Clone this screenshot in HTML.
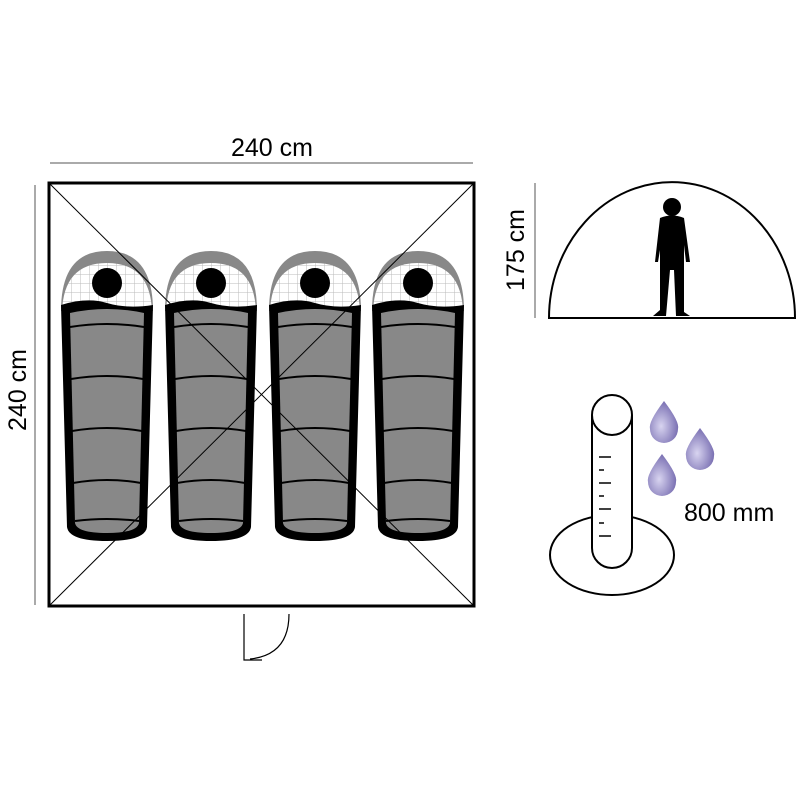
<!DOCTYPE html>
<html><head><style>body{margin:0;background:#fff}svg{display:block}</style></head><body>
<svg width="800" height="800" xmlns="http://www.w3.org/2000/svg" font-family="Liberation Sans, sans-serif">
<defs>
<pattern id="g" width="9" height="9" patternUnits="userSpaceOnUse"><rect width="9" height="9" fill="#fff"/><path d="M0 0H9M0 0V9" stroke="#bbb" stroke-width="1"/></pattern>
<radialGradient id="d" cx="0.4" cy="0.6" r="0.7"><stop offset="0" stop-color="#d8d4f0"/><stop offset="1" stop-color="#6a5fa8"/></radialGradient>
<g id="bag">
<path d="M-46 28 Q-46 -32 0 -32 Q46 -32 46 28 Z" fill="#888"/>
<path d="M-45 30 Q-44 -20 0 -20 Q44 -20 45 30 Z" fill="url(#g)"/>
<circle cx="0" cy="0" r="15" fill="#000"/>
<path d="M-46 22 Q-20 14 0 20 Q20 26 46 22 L40 244 Q38 258 0 258 Q-38 258 -40 244 Z" fill="#000"/>
<path d="M-37 30 Q0 22 37 30 L32 240 Q30 250 0 250 Q-30 250 -32 240 Z" fill="#888"/>
<g stroke="#000" stroke-width="2" fill="none">
<path d="M-37 44 Q0 38 37 44"/><path d="M-36 96 Q0 90 36 96"/><path d="M-35 148 Q0 142 35 148"/><path d="M-34 200 Q0 194 34 200"/><path d="M-32 238 Q0 234 32 238"/></g>
</g>
<g id="drop"><path d="M0 -19 Q16 2 14 9 A14 14 0 1 1 -14 9 Q-16 2 0 -19Z" fill="url(#d)"/></g>
</defs>
<text x="272" y="156" font-size="25" text-anchor="middle">240 cm</text>
<line x1="50" y1="163" x2="473" y2="163" stroke="#555" stroke-width="1"/>
<line x1="35" y1="185" x2="35" y2="605" stroke="#555" stroke-width="1"/>
<text transform="translate(26,390) rotate(-90)" font-size="25" text-anchor="middle">240 cm</text>
<use href="#bag" x="107" y="283"/><use href="#bag" x="211" y="283"/><use href="#bag" x="315" y="283"/><use href="#bag" x="418" y="283"/>
<line x1="50" y1="184" x2="473" y2="605" stroke="#000" stroke-width="1"/>
<line x1="473" y1="184" x2="50" y2="605" stroke="#000" stroke-width="1"/>
<rect x="49" y="183" width="425" height="423" fill="none" stroke="#000" stroke-width="3"/>
<path d="M244 614V660H262M289 614Q289 655 250 659" fill="none" stroke="#000" stroke-width="1.2"/>
<line x1="535" y1="183" x2="535" y2="318" stroke="#555"/>
<text transform="translate(524,250) rotate(-90)" font-size="25" text-anchor="middle">175 cm</text>
<path d="M549 318 A123 136 0 0 1 795 318 Z" fill="none" stroke="#000" stroke-width="2"/>
<g fill="#000">
<circle cx="672" cy="207" r="9"/>
<path d="M660 218 Q672 213 684 218 L690 262 L686 262 L684 245 L684 312 L690 316 L676 316 L674 270 L670 270 L666 316 L653 316 L660 310 L660 250 L658 262 L655 262 Z"/>
</g>
<ellipse cx="612" cy="555" rx="62" ry="40" fill="#fff" stroke="#000" stroke-width="2"/>
<path d="M592 415 V548 A20 20 0 0 0 632 548 V415" fill="#fff" stroke="#000" stroke-width="2"/>
<circle cx="612" cy="415" r="20" fill="#fff" stroke="#000" stroke-width="2"/>
<g stroke="#000" stroke-width="1.5"><line x1="599" y1="457" x2="611" y2="457"/><line x1="599" y1="470" x2="604" y2="470"/><line x1="599" y1="483" x2="611" y2="483"/><line x1="599" y1="496" x2="604" y2="496"/><line x1="599" y1="509" x2="611" y2="509"/><line x1="599" y1="523" x2="604" y2="523"/><line x1="599" y1="536" x2="611" y2="536"/></g>
<use href="#drop" x="664" y="420"/><use href="#drop" x="700" y="447"/><use href="#drop" x="662" y="473"/>
<text x="684" y="521" font-size="25">800 mm</text>
</svg>
</body></html>
